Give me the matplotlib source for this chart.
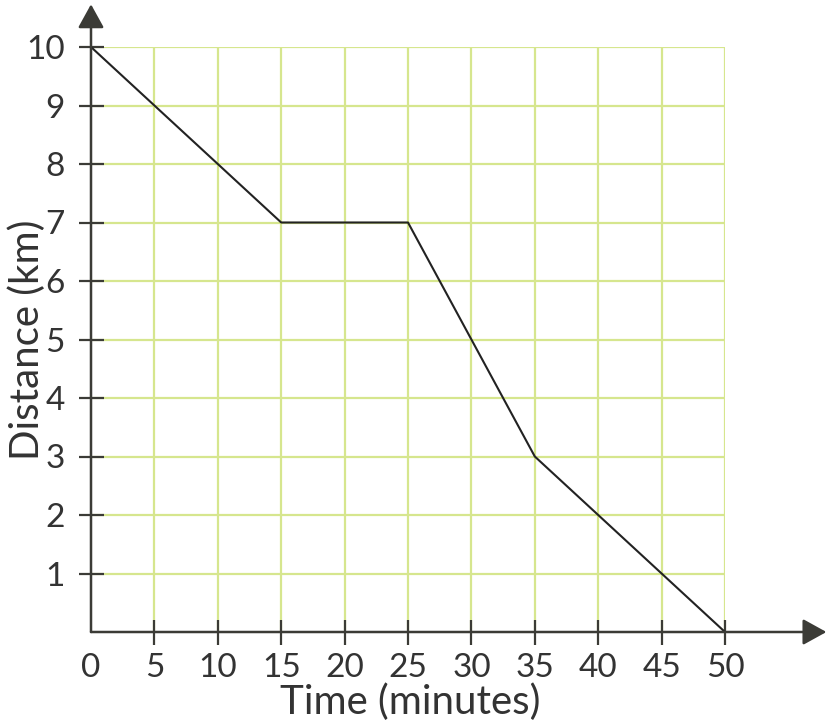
import matplotlib
matplotlib.use("Agg")
import matplotlib.pyplot as plt

time_min = [0, 15, 25, 35, 50]
distance_km = [10, 7, 7, 3, 0]
x_ticks = [0, 5, 10, 15, 20, 25, 30, 35, 40, 45, 50]
y_ticks = [1, 2, 3, 4, 5, 6, 7, 8, 9, 10]

plt.rcParams['font.family'] = ['Lato', 'DejaVu Sans']
axis_c = '#3b3b36'
grid_c = '#d6e68e'
text_c = '#333333'

fig = plt.figure(figsize=(8.26, 7.23), dpi=100)
ax = fig.add_axes([91/826, 91/723, 634/826, 585/723])
ax.set_xlim(0, 50)
ax.set_ylim(0, 10)
for s in ax.spines.values():
    s.set_visible(False)

for xv in x_ticks[1:]:
    ax.plot([xv, xv], [0, 10], color=grid_c, lw=1.6, zorder=1, solid_capstyle='butt')
for yv in y_ticks:
    ax.plot([0, 50], [yv, yv], color=grid_c, lw=1.6, zorder=1, solid_capstyle='butt')

ax.plot(time_min, distance_km, color='#222222', lw=1.5, zorder=3)

# axes with arrows
astyle = '-|>,head_length=1.45,head_width=0.8'
ax.annotate('', xy=(1.16, 0), xytext=(0, 0), xycoords='axes fraction',
            arrowprops=dict(arrowstyle=astyle, color=axis_c, lw=1.8,
                            shrinkA=0, shrinkB=0), annotation_clip=False, zorder=4)
ax.annotate('', xy=(0, 1.073), xytext=(0, 0), xycoords='axes fraction',
            arrowprops=dict(arrowstyle=astyle, color=axis_c, lw=1.8,
                            shrinkA=0, shrinkB=0), annotation_clip=False, zorder=4)

ax.set_xticks(x_ticks)
ax.set_yticks(y_ticks)
ax.tick_params(axis='x', direction='inout', length=18, width=1.6, color=axis_c,
               labelsize=24, labelcolor=text_c, pad=6)
ax.tick_params(axis='y', direction='inout', length=18, width=1.6, color=axis_c,
               labelsize=24, labelcolor=text_c, pad=10)
ax.xaxis.get_major_ticks()[0].tick1line.set_visible(False)
ax.set_xlabel('Time (minutes)', fontsize=29, color=text_c, va='center')
ax.set_ylabel('Distance (km)', fontsize=29, color=text_c, va='center')
ax.xaxis.set_label_coords((410-91)/634, -(702-632)/585)
ax.yaxis.set_label_coords(-(91-27)/634, (632-340)/585)

fig.savefig('out.png', dpi=100)
